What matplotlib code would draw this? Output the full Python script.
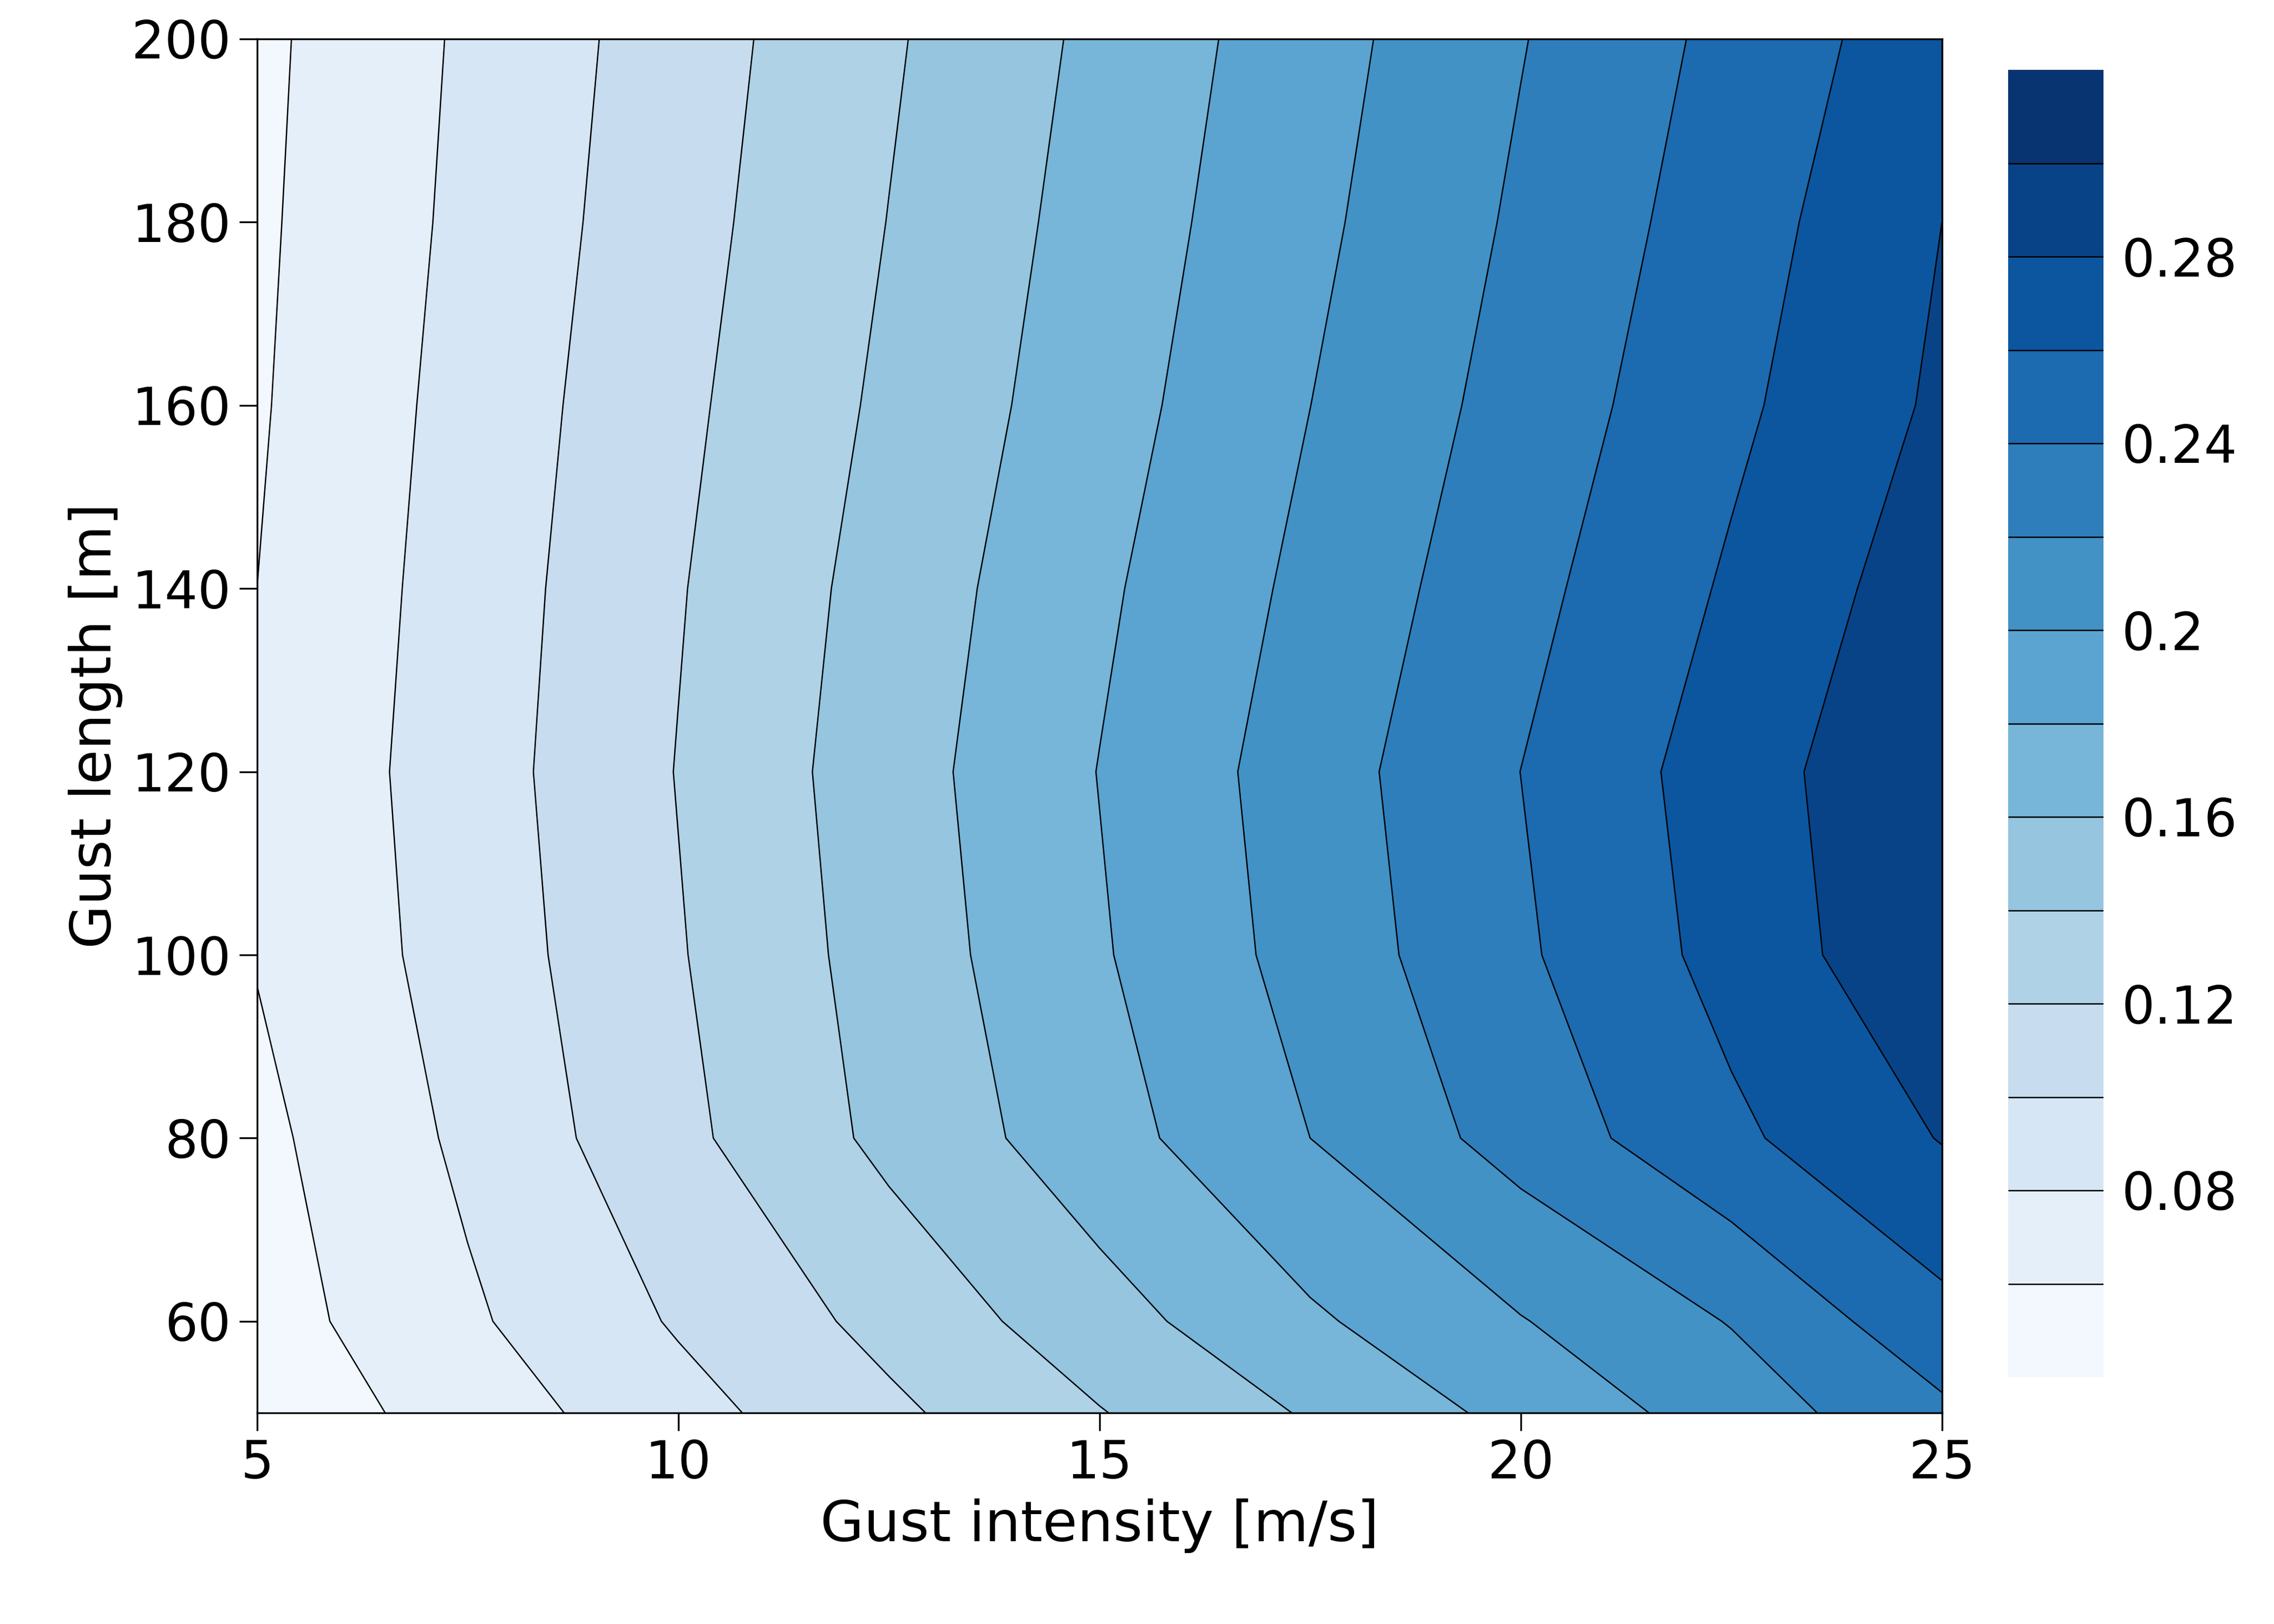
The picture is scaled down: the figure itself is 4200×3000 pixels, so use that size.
import numpy as np
import matplotlib
matplotlib.use("Agg")
import matplotlib.pyplot as plt

# gust intensity [m/s] and gust length [m] grid
gust_intensity = [5, 7.5, 10, 12.5, 15, 17.5, 20, 22.5, 25]
gust_length = [50, 60, 80, 100, 120, 140, 160, 180, 200]

z_50 = [0.046, 0.069, 0.093, 0.116, 0.139, 0.162, 0.186, 0.209, 0.236]
z_60 = [0.051, 0.077, 0.102, 0.126, 0.152, 0.177, 0.199, 0.221, 0.254]
z_80 = [0.055, 0.084, 0.115, 0.145, 0.172, 0.200, 0.228, 0.256, 0.281]
z_100 = [0.061, 0.0885, 0.1186, 0.1486, 0.178, 0.2076, 0.237, 0.267, 0.297]
z_120 = [0.062, 0.0906, 0.1207, 0.151, 0.1805, 0.2102, 0.2401, 0.270, 0.299]
z_140 = [0.060, 0.089, 0.1187, 0.148, 0.1766, 0.205, 0.2338, 0.2627, 0.2916]
z_160 = [0.058, 0.087, 0.1157, 0.1438, 0.1716, 0.1999, 0.2278, 0.2557, 0.2835]
z_180 = [0.0567, 0.0846, 0.1127, 0.1404, 0.168, 0.1954, 0.2231, 0.2505, 0.280]
z_200 = [0.0555, 0.083, 0.1102, 0.1375, 0.1646, 0.1918, 0.219, 0.2457, 0.2728]

inner_levels = [0.06, 0.08, 0.10, 0.12, 0.14, 0.16, 0.18, 0.20, 0.22, 0.24, 0.26, 0.28, 0.30]
cbar_ticks = [0.08, 0.12, 0.16, 0.2, 0.24, 0.28]
cbar_labels = ["0.08", "0.12", "0.16", "0.2", "0.24", "0.28"]

Z = np.array([z_50, z_60, z_80, z_100, z_120, z_140, z_160, z_180, z_200])
X, Y = np.meshgrid(gust_intensity, gust_length)
levels = [Z.min() - 1e-4] + inner_levels + [Z.max() + 0.01]

plt.rcParams["font.family"] = "DejaVu Sans"
fig = plt.figure(figsize=(14, 10), dpi=300)
ax = fig.add_axes([0.113, 0.130, 0.741, 0.846])
cf = ax.contourf(X, Y, Z, levels=levels, cmap="Blues")
cl = ax.contour(X, Y, Z, levels=inner_levels, colors="black", linewidths=0.6)

ax.set_xlim(5, 25)
ax.set_ylim(50, 200)
ax.set_xticks([5, 10, 15, 20, 25])
ax.set_yticks([60, 80, 100, 120, 140, 160, 180, 200])
ax.tick_params(labelsize=23, length=8)
ax.set_xlabel("Gust intensity [m/s]", fontsize=25)
ax.set_ylabel("Gust length [m]", fontsize=25)

cax = fig.add_axes([0.883, 0.152, 0.042, 0.805])
cb = fig.colorbar(cf, cax=cax)
cb.add_lines(cl)
cb.outline.set_visible(False)
cb.set_ticks(cbar_ticks)
cb.set_ticklabels(cbar_labels)
cax.tick_params(labelsize=23, length=0, pad=8)

fig.savefig("out.png", dpi=300)
